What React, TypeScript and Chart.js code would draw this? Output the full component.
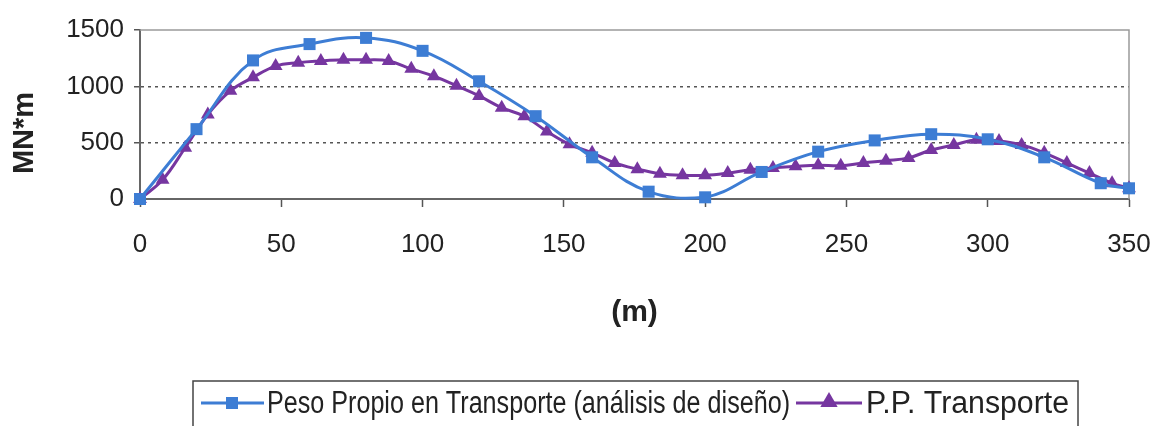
import React, { useEffect, useRef } from 'react';
import { Chart, registerables } from 'chart.js';

Chart.register(...registerables);

// ---- data ----
const blueX = [0, 20, 40, 60, 80, 100, 120, 140, 160, 180, 200, 220, 240, 260, 280, 300, 320, 340, 350];
const blueY = [0, 620, 1230, 1375, 1430, 1315, 1045, 735, 370, 65, 15, 240, 420, 520, 575, 530, 370, 140, 95];

const purpleX = [0, 8, 16, 24, 32, 40, 48, 56, 64, 72, 80, 88, 96, 104, 112, 120, 128, 136, 144, 152, 160, 168, 176, 184, 192, 200, 208, 216, 224, 232, 240, 248, 256, 264, 272, 280, 288, 296, 304, 312, 320, 328, 336, 344, 350];
const purpleY = [0, 170, 455, 750, 960, 1080, 1180, 1210, 1225, 1235, 1235, 1225, 1155, 1090, 1005, 915, 810, 735, 600, 485, 410, 320, 265, 225, 210, 210, 230, 260, 275, 290, 300, 295, 320, 340, 365, 435, 480, 525, 515, 480, 410, 320, 230, 140, 95];

const xTicks = [0, 50, 100, 150, 200, 250, 300, 350];
const yTicks = [0, 500, 1000, 1500];
const seriesNames = ['Peso Propio en Transporte (análisis de diseño)', 'P.P. Transporte'];
const xTitle = '(m)';
const yTitle = 'MN*m';

const BLUE = '#3d7dd4';
const PURPLE = '#7636a0';
const FONT = '"Liberation Sans", Arial, sans-serif';

const framePlugin = {
  id: 'frame',
  beforeDatasetsDraw(chart: any) {
    const { ctx, chartArea: a } = chart;
    ctx.save();
    ctx.strokeStyle = '#9a9a9a';
    ctx.lineWidth = 1.5;
    ctx.beginPath();
    ctx.moveTo(a.left, a.top);
    ctx.lineTo(a.right, a.top);
    ctx.lineTo(a.right, a.bottom);
    ctx.stroke();
    ctx.restore();
  },
};

const yTitlePlugin = {
  id: 'yTitle',
  afterDraw(chart: any) {
    const ctx: CanvasRenderingContext2D = chart.ctx;
    ctx.save();
    ctx.translate(25, 133);
    ctx.rotate(-Math.PI / 2);
    ctx.font = `bold 29px ${FONT}`;
    ctx.fillStyle = '#222';
    ctx.textAlign = 'center';
    ctx.textBaseline = 'middle';
    ctx.fillText(yTitle, 0, 0);
    ctx.restore();
  },
};

function drawSquare(ctx: CanvasRenderingContext2D, x: number, y: number, s: number, color: string) {
  ctx.fillStyle = color;
  ctx.fillRect(x - s / 2, y - s / 2, s, s);
}
function drawTriangle(ctx: CanvasRenderingContext2D, x: number, y: number, r: number, color: string) {
  ctx.fillStyle = color;
  ctx.beginPath();
  ctx.moveTo(x, y - r);
  ctx.lineTo(x + r * 0.866, y + r * 0.5);
  ctx.lineTo(x - r * 0.866, y + r * 0.5);
  ctx.closePath();
  ctx.fill();
}

function fitText(ctx: CanvasRenderingContext2D, text: string, x: number, y: number, width: number) {
  const w = ctx.measureText(text).width;
  ctx.save();
  ctx.translate(x, y);
  ctx.scale(width / w, 1);
  ctx.fillText(text, 0, 0);
  ctx.restore();
}

const legendPlugin = {
  id: 'customLegend',
  afterDraw(chart: any) {
    const ctx: CanvasRenderingContext2D = chart.ctx;
    ctx.save();
    ctx.font = `31px ${FONT}`;
    ctx.textBaseline = 'middle';
    ctx.textAlign = 'left';
    const cy = 403;
    ctx.strokeStyle = '#444';
    ctx.lineWidth = 1.5;
    ctx.strokeRect(193, 381, 1078 - 193, 60);
    // item 1
    ctx.strokeStyle = BLUE;
    ctx.lineWidth = 3;
    ctx.beginPath();
    ctx.moveTo(201, cy);
    ctx.lineTo(264, cy);
    ctx.stroke();
    drawSquare(ctx, 232, cy, 12, BLUE);
    ctx.fillStyle = '#222';
    fitText(ctx, seriesNames[0], 267, cy + 1, 523);
    // item 2
    ctx.strokeStyle = PURPLE;
    ctx.lineWidth = 3;
    ctx.beginPath();
    ctx.moveTo(796, cy);
    ctx.lineTo(862, cy);
    ctx.stroke();
    drawTriangle(ctx, 829, cy - 1, 10, PURPLE);
    ctx.fillStyle = '#222';
    fitText(ctx, seriesNames[1], 866, cy + 1, 203);
    ctx.restore();
  },
};

export default function App() {
  const ref = useRef<HTMLCanvasElement>(null);

  useEffect(() => {
    document.body.style.margin = '0';
    const canvas = ref.current;
    if (!canvas) return;
    const chart = new Chart(canvas, {
      type: 'line',
      data: {
        datasets: [
          {
            label: seriesNames[0],
            data: blueX.map((x, i) => ({ x, y: blueY[i] })),
            borderColor: BLUE,
            backgroundColor: BLUE,
            borderWidth: 3,
            pointStyle: 'rect',
            pointRadius: 8.5,
            pointBorderWidth: 0,
            tension: 0.4,
            clip: false as any,
          },
          {
            label: seriesNames[1],
            data: purpleX.map((x, i) => ({ x, y: purpleY[i] })),
            borderColor: PURPLE,
            backgroundColor: PURPLE,
            borderWidth: 3,
            pointStyle: 'triangle',
            pointRadius: 8,
            pointBorderWidth: 0,
            tension: 0.4,
            clip: false as any,
          },
        ],
      },
      options: {
        responsive: false,
        animation: false,
        devicePixelRatio: 1,
        layout: { padding: { left: 0, top: 30, right: 28, bottom: 86 } },
        plugins: {
          legend: { display: false },
          tooltip: { enabled: false },
        },
        scales: {
          x: {
            type: 'linear',
            min: 0,
            max: 350,
            afterBuildTicks: (s: any) => {
              s.ticks = xTicks.map((v) => ({ value: v }));
            },
            afterFit: (s: any) => {
              s.height = 141;
              s.paddingRight = 0;
              s.paddingLeft = 0;
            },
            grid: {
              display: true,
              drawOnChartArea: false,
              drawTicks: true,
              tickLength: 8,
              tickColor: '#555',
              tickWidth: 1.5,
            },
            border: { display: true, color: '#666', width: 2 },
            ticks: {
              color: '#222',
              padding: 22,
              maxRotation: 0,
              autoSkip: false,
              font: { family: FONT, size: 26 },
              callback: (v: any) => String(v),
            },
            title: {
              display: true,
              text: xTitle,
              color: '#222',
              font: { family: FONT, size: 30, weight: 'bold' },
              padding: { top: 0, bottom: 9 },
            },
          },
          y: {
            type: 'linear',
            min: 0,
            max: 1500,
            afterBuildTicks: (s: any) => {
              s.ticks = yTicks.map((v) => ({ value: v }));
            },
            afterFit: (s: any) => {
              s.width = 140;
            },
            grid: {
              display: true,
              drawOnChartArea: true,
              drawTicks: true,
              tickLength: 6,
              tickColor: '#555',
              tickWidth: 1.5,
              lineWidth: 1.5,
              color: (c: any) =>
                c.tick && (c.tick.value === 0 || c.tick.value === 1500) ? 'rgba(0,0,0,0)' : '#555',
            },
            border: { display: true, color: '#666', width: 2, dash: [3, 4] },
            ticks: {
              color: '#222',
              padding: 10,
              autoSkip: false,
              font: { family: FONT, size: 26 },
              callback: (v: any) => String(v),
            },
            title: { display: false },
          },
        },
      },
      plugins: [framePlugin, yTitlePlugin, legendPlugin],
    });
    return () => chart.destroy();
  }, []);

  return (
    <div style={{ width: 1157, height: 426 }}>
      <canvas ref={ref} width={1157} height={426} style={{ display: 'block' }} />
    </div>
  );
}
